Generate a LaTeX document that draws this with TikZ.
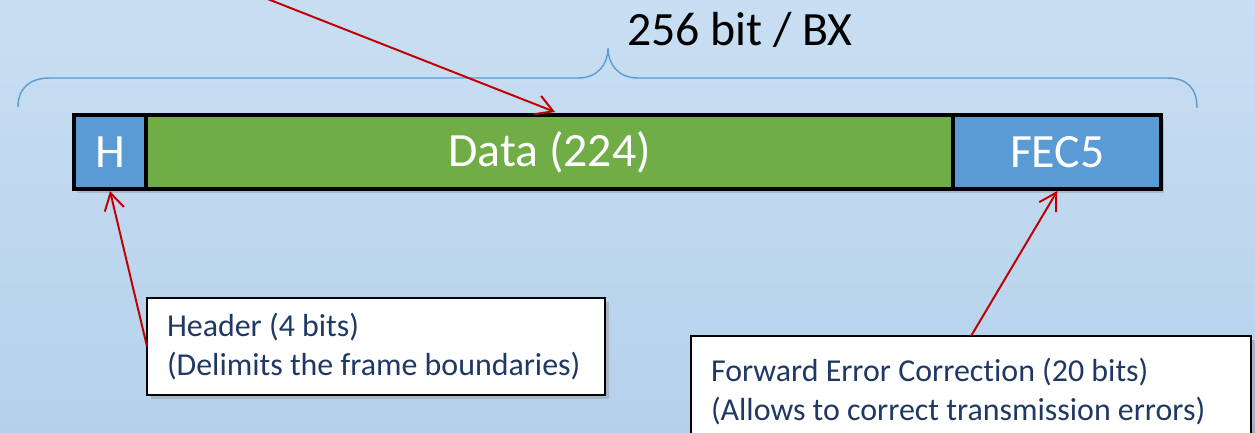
\documentclass[tikz,border=0pt]{standalone}
\usepackage{fontspec}
\setmainfont[Ligatures=NoCommon]{Carlito}
\usetikzlibrary{positioning, arrows.meta, shadows}
\definecolor{hblue}{RGB}{91,155,213}
\definecolor{dgreen}{RGB}{112,173,71}
\definecolor{navy}{RGB}{31,56,100}
\definecolor{darkred}{RGB}{192,0,0}
\definecolor{bgtop}{RGB}{201,222,242}
\definecolor{bgbot}{RGB}{180,209,235}
\tikzset{
x=0.025cm, y=-0.025cm, % one unit is one pixel of the slide, y runs down
field/.style={draw=black, line width=2.8pt, outer sep=0pt, inner sep=0pt,
  minimum height=1.85cm, text=white, font=\fontsize{34}{40}\selectfont,
  drop shadow={opacity=0.35, shadow xshift=2pt, shadow yshift=-2.5pt}}, % one box of the frame
note/.style={draw=black, line width=1pt, fill=white, outer sep=0pt,
  inner xsep=0.5cm, align=flush left, text=navy, font=\fontsize{22.7}{27.7}\selectfont,
  drop shadow={opacity=0.35, shadow xshift=2.5pt, shadow yshift=-2.5pt}}, % white call-out
pointer/.style={draw=darkred, line width=1.4pt, -{Straight Barb[length=12pt, width=14pt]}}, % red arrows
brace/.style={draw=hblue, line width=1pt},
}
\begin{document}
\begin{tikzpicture}
        % slide background
        \useasboundingbox (0,0) rectangle (1255,433);
        \clip (0,0) rectangle (1255,433);
        \shade[top color=bgtop, bottom color=bgbot] (0,0) rectangle (1255,433);

        % brace over the frame
        \draw[brace] (18,107) .. controls (18,88) and (30,78) .. (50,78) -- (578,78)
            .. controls (598,78) and (608,64) .. (608,48)
            .. controls (608,64) and (618,78) .. (638,78) -- (1167,78)
            .. controls (1187,78) and (1197,88) .. (1197,108);
        \node[font=\fontsize{34}{40}\selectfont] (width) at (740,30) {256 bit / BX};

        % frame fields
        \node[field, fill=hblue, minimum width=1.8cm, anchor=west] (H) at (74,152) {H};
        \node[field, fill=dgreen, minimum width=20.175cm, right=0pt of H] (Data) {Data (224)};
        \node[field, fill=hblue, minimum width=5.2cm, right=0pt of Data] (FEC5) {FEC5};

        % call-outs
        \node[note, text width=10.45cm, minimum height=2.425cm, anchor=north west] (Header) at (147,298)
            {Header (4 bits)\\(Delimits the frame boundaries)};
        \node[note, text width=13cm, minimum height=2.775cm, anchor=north west] (Fwd) at (691,336)
            {Forward Error Correction (20 bits)\\(Allows to correct transmission errors)};

        % pointers
        \coordinate (src) at (260,-4);
        \draw[pointer] (src) -- ([shift={(409,-3)}]Data.north west);
        \draw[pointer] (Header.west) -- ([shift={(0,2)}]H.south);
        \draw[pointer] (Fwd.north) -- ([shift={(0,2)}]FEC5.south);
\end{tikzpicture}
\end{document}
